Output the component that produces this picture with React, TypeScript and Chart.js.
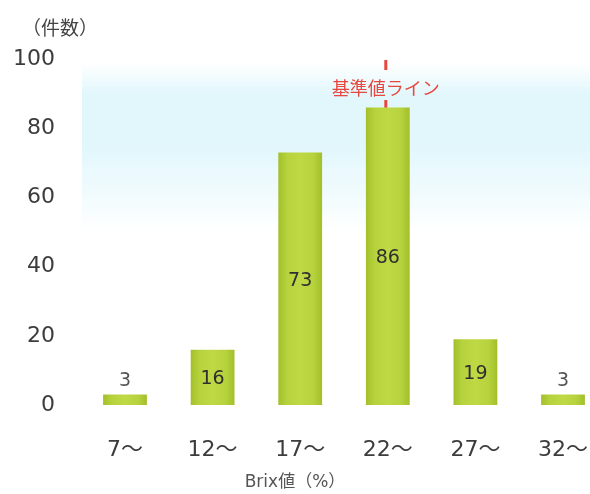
import { useEffect, useRef } from 'react';
import { Chart, registerables } from 'chart.js';

Chart.register(...registerables);

const categories = ['7〜', '12〜', '17〜', '22〜', '27〜', '32〜'];
const counts = [3, 16, 73, 86, 19, 3];
const yTickValues = [0, 20, 40, 60, 80, 100];
const referenceCategory = '22〜';
const referenceLabel = '基準値ライン';
const yTitle = '（件数）';
const xTitle = 'Brix値（%）';

const FONT = "'DejaVu Sans', 'Noto Sans CJK JP', sans-serif";
const CJK_FONT = "'Noto Sans CJK JP', 'DejaVu Sans', sans-serif";

const bandPlugin = {
  id: 'band',
  beforeDraw(chart: any) {
    const { ctx, chartArea } = chart;
    if (!chartArea) return;
    const top = chartArea.top + 4;
    const bottom = chartArea.top + 175;
    const g = ctx.createLinearGradient(0, top, 0, bottom);
    g.addColorStop(0, 'rgba(226,247,252,0)');
    g.addColorStop(0.18, 'rgba(226,247,252,1)');
    g.addColorStop(0.5, 'rgba(226,247,252,1)');
    g.addColorStop(1, 'rgba(226,247,252,0)');
    ctx.save();
    ctx.fillStyle = g;
    ctx.fillRect(chartArea.left - 43, top, chart.width - (chartArea.left - 43), bottom - top);
    ctx.restore();
  },
};

const referencePlugin = {
  id: 'reference',
  beforeDatasetsDraw(chart: any) {
    const { ctx, chartArea, scales } = chart;
    const idx = categories.indexOf(referenceCategory);
    const x = scales.x.getPixelForValue(idx) - 2;
    const y0 = scales.y.getPixelForValue(0);
    ctx.save();
    ctx.strokeStyle = '#e8473f';
    ctx.lineWidth = 3;
    ctx.setLineDash([10, 30]);
    ctx.beginPath();
    ctx.moveTo(x, chartArea.top + 1);
    ctx.lineTo(x, y0);
    ctx.stroke();
    ctx.setLineDash([]);
    ctx.fillStyle = '#e8473f';
    ctx.font = `18px ${CJK_FONT}`;
    ctx.textAlign = 'center';
    ctx.textBaseline = 'middle';
    ctx.fillText(referenceLabel, x, chartArea.top + 29);
    ctx.restore();
  },
};

const valueLabelPlugin = {
  id: 'valueLabels',
  afterDatasetsDraw(chart: any) {
    const { ctx } = chart;
    const meta = chart.getDatasetMeta(0);
    ctx.save();
    ctx.font = `19px ${FONT}`;
    ctx.textAlign = 'center';
    ctx.textBaseline = 'middle';
    meta.data.forEach((el: any, i: number) => {
      const v = counts[i];
      const h = el.base - el.y;
      if (h > 30) {
        ctx.fillStyle = '#2f2f2f';
        ctx.fillText(String(v), el.x, el.y + h / 2 + 2);
      } else {
        ctx.fillStyle = '#555555';
        ctx.fillText(String(v), el.x, el.y - 14);
      }
    });
    ctx.restore();
  },
};

const titlesPlugin = {
  id: 'titles',
  afterDraw(chart: any) {
    const { ctx, chartArea } = chart;
    ctx.save();
    ctx.fillStyle = '#444444';
    ctx.textBaseline = 'middle';
    ctx.font = `19px ${CJK_FONT}`;
    ctx.textAlign = 'left';
    ctx.fillText(yTitle, chartArea.left - 103, chartArea.top - 31);
    ctx.fillStyle = '#555555';
    ctx.font = `17px ${FONT}`;
    ctx.textAlign = 'center';
    ctx.fillText(xTitle, chartArea.left + 170, chartArea.bottom + 78);
    ctx.restore();
  },
};

function barFill(c: any) {
  const chart = c.chart;
  const { chartArea, scales } = chart;
  if (!chartArea || c.type !== 'data' || !scales.x) return '#b4d03b';
  const x = scales.x.getPixelForValue(c.dataIndex);
  const half = (scales.x.getPixelForValue(1) - scales.x.getPixelForValue(0)) * 0.25;
  const g = chart.ctx.createLinearGradient(x - half, 0, x + half, 0);
  g.addColorStop(0, '#a3c02c');
  g.addColorStop(0.2, '#b6d23d');
  g.addColorStop(0.5, '#bfd945');
  g.addColorStop(0.8, '#b6d23d');
  g.addColorStop(1, '#a2bf2b');
  return g;
}

export default function App() {
  const ref = useRef<HTMLCanvasElement | null>(null);

  useEffect(() => {
    document.body.style.margin = '0';
    const canvas = ref.current;
    if (!canvas) return;
    Chart.defaults.font.family = FONT;
    const chart = new Chart(canvas, {
      type: 'bar',
      data: {
        labels: categories,
        datasets: [
          {
            data: counts,
            backgroundColor: barFill as any,
            borderWidth: 0,
            barPercentage: 0.5,
            categoryPercentage: 1,
            clip: false as any,
          },
        ],
      },
      options: {
        responsive: false,
        animation: false,
        layout: { padding: { left: 0, right: 27, top: 59, bottom: 0 } },
        plugins: {
          legend: { display: false },
          tooltip: { enabled: false },
          title: { display: false },
        },
        scales: {
          x: {
            type: 'category',
            offset: false,
            grid: { display: false, drawTicks: false },
            border: { display: false },
            ticks: {
              color: '#3c3c3c',
              font: { size: 22, family: FONT },
              padding: 32,
              maxRotation: 0,
              autoSkip: false,
            },
            afterFit: (s: any) => {
              s.height = 89;
              s.paddingLeft = 0;
              s.paddingRight = 0;
            },
          },
          y: {
            min: 0,
            max: 100,
            grid: { display: false, drawTicks: false },
            border: { display: false },
            afterBuildTicks: (s: any) => {
              s.ticks = yTickValues.map((v) => ({ value: v }));
            },
            ticks: {
              color: '#3c3c3c',
              font: { size: 22, family: FONT },
              padding: 70,
            },
            afterFit: (s: any) => {
              s.width = 125;
              s.paddingTop = 0;
              s.paddingBottom = 0;
            },
          },
        },
      },
      plugins: [bandPlugin, referencePlugin, valueLabelPlugin, titlesPlugin],
    });
    return () => chart.destroy();
  }, []);

  return <canvas ref={ref} width={590} height={494} style={{ display: 'block' }} />;
}
